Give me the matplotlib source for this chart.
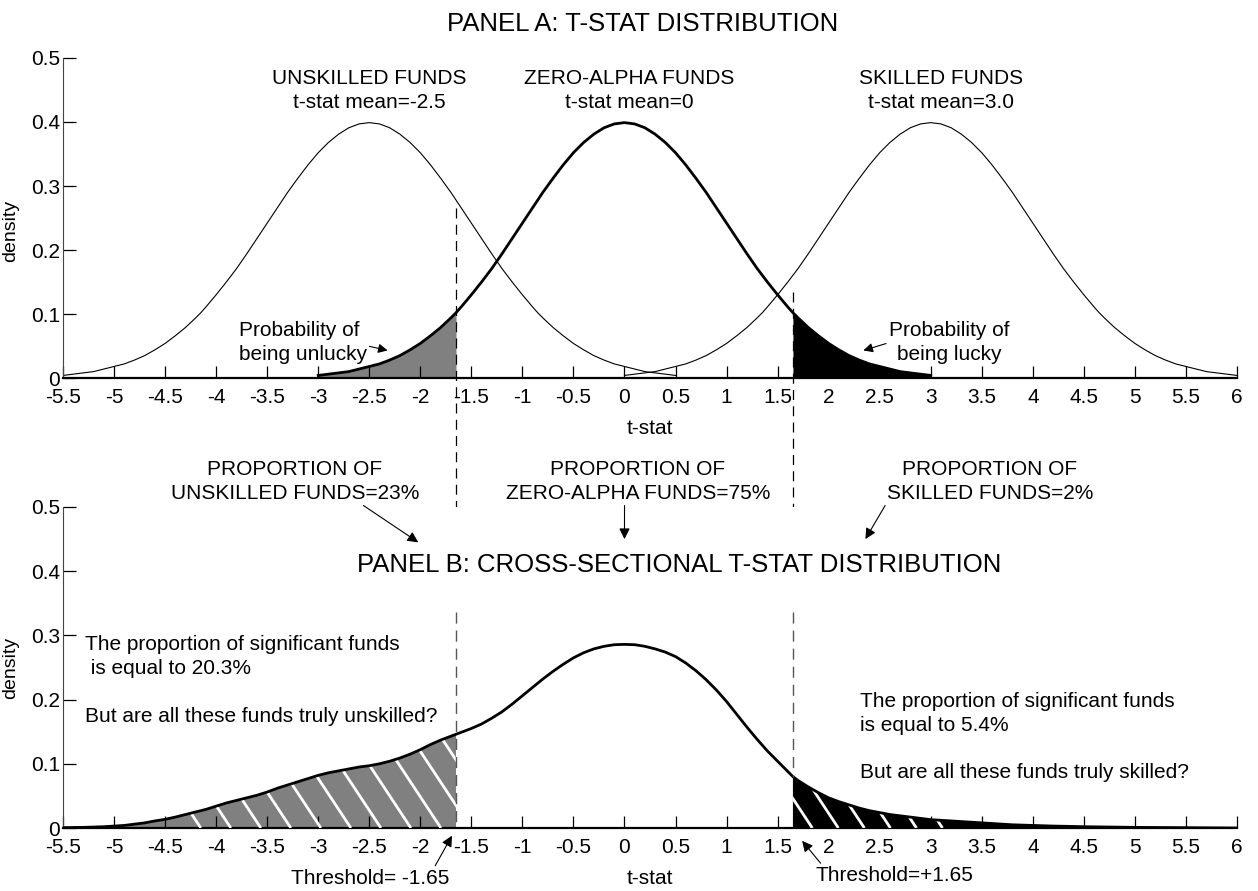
import numpy as np
import matplotlib
matplotlib.use("Agg")
import matplotlib.pyplot as plt
from matplotlib.patches import Polygon
from matplotlib.collections import LineCollection

plt.rcParams['font.family'] = ['Liberation Sans', 'DejaVu Sans']

# ---- data ----
# panel A: one density shape, read at distances 0, 0.1, ... 3 from the group mean (plus 1.65)
half_off = [0.0, 0.1, 0.2, 0.3, 0.4, 0.5, 0.6, 0.7, 0.8, 0.9, 1.0, 1.1, 1.2, 1.3, 1.4, 1.5,
            1.6, 1.65, 1.7, 1.8, 1.9, 2.0, 2.1, 2.2, 2.3, 2.4, 2.5, 2.6, 2.7, 2.8, 2.9, 3.0]
half_shape = [0.399, 0.397, 0.391, 0.381, 0.368, 0.352, 0.333, 0.312, 0.290, 0.266, 0.242, 0.218,
              0.194, 0.171, 0.150, 0.130, 0.111, 0.102, 0.094, 0.079, 0.066, 0.054, 0.044, 0.035,
              0.028, 0.022, 0.018, 0.014, 0.010, 0.008, 0.006, 0.004]
group_means = {'unskilled': -2.5, 'zero': 0.0, 'skilled': 3.0}

# panel B: cross-sectional density, read every 0.1 (plus the two thresholds)
tstat_b = sorted([round(v, 2) for v in np.arange(-5.5, 6.01, 0.1)] + [-1.65, 1.65])
dens_b = [
    # -5.5 .. -4.6
    0.0006, 0.0008, 0.001, 0.0015, 0.002, 0.003, 0.004, 0.006, 0.008, 0.011,
    # -4.5 .. -3.6
    0.0135, 0.017, 0.021, 0.025, 0.029, 0.034, 0.039, 0.043, 0.047, 0.051,
    # -3.5 .. -2.6
    0.056, 0.062, 0.067, 0.072, 0.077, 0.082, 0.086, 0.089, 0.092, 0.095,
    # -2.5 .. -1.6, -1.65 inserted
    0.097, 0.100, 0.104, 0.109, 0.115, 0.122, 0.130, 0.137, 0.143, 0.146, 0.149,
    # -1.5 .. -0.6
    0.155, 0.162, 0.171, 0.181, 0.193, 0.206, 0.219, 0.232, 0.244, 0.255,
    # -0.5 .. 0.4
    0.265, 0.273, 0.279, 0.283, 0.2855, 0.286, 0.2855, 0.283, 0.279, 0.274,
    # 0.5 .. 1.4
    0.267, 0.257, 0.245, 0.231, 0.215, 0.197, 0.177, 0.157, 0.138, 0.120,
    # 1.5 .. 2.4, 1.65 inserted
    0.104, 0.088, 0.080, 0.074, 0.064, 0.055, 0.047, 0.041, 0.036, 0.031, 0.027,
    # 2.5 .. 3.4
    0.024, 0.021, 0.019, 0.017, 0.015, 0.013, 0.012, 0.011, 0.010, 0.009,
    # 3.5 .. 4.4
    0.008, 0.007, 0.006, 0.005, 0.0045, 0.004, 0.0035, 0.003, 0.0027, 0.0024,
    # 4.5 .. 5.4
    0.002, 0.0018, 0.0016, 0.0014, 0.0012, 0.001, 0.0009, 0.0008, 0.0007, 0.0006,
    # 5.5 .. 6.0
    0.0005, 0.0004, 0.0003, 0.0002, 0.0001, 0.0,
]

thr_lo, thr_hi = -1.65, 1.65
xticks = np.arange(-5.5, 6.01, 0.5)
xticklabels = ['-5.5', '-5', '-4.5', '-4', '-3.5', '-3', '-2.5', '-2', '-1.5', '-1', '-0.5', '0',
               '0.5', '1', '1.5', '2', '2.5', '3', '3.5', '4', '4.5', '5', '5.5', '6']
yticks = [0, 0.1, 0.2, 0.3, 0.4, 0.5]
yticklabels = ['0', '0.1', '0.2', '0.3', '0.4', '0.5']

W, H = 1258, 891
fig = plt.figure(figsize=(W / 100, H / 100), dpi=100)
ax_a = fig.add_axes([63 / W, (H - 378) / H, 1174 / W, 320 / H])
ax_b = fig.add_axes([63 / W, (H - 828) / H, 1174 / W, 321 / H])

for ax in (ax_a, ax_b):
    ax.set_xlim(-5.5, 6)
    ax.set_ylim(0, 0.5)
    ax.spines['top'].set_visible(False)
    ax.spines['right'].set_visible(False)
    ax.spines['left'].set_color('#444444')
    ax.spines['bottom'].set_linewidth(1.6)
    ax.set_xticks(xticks)
    ax.set_xticklabels(xticklabels)
    ax.set_yticks(yticks)
    ax.set_yticklabels(yticklabels)
    ax.tick_params(axis='x', direction='in', length=9, width=0.9, labelsize=15, pad=7.5)
    ax.tick_params(axis='y', direction='in', length=9, width=0.9, labelsize=15, pad=2)
    ax.set_xlabel('t-stat', fontsize=15, labelpad=8)
    ax.set_ylabel('density', fontsize=14)
ax_a.yaxis.set_label_coords(-0.037, 0.46)
ax_b.yaxis.set_label_coords(-0.037, 0.5)

dash = (0, (8, 5))
txt = 15
ls = 1.32

# ---- panel A ----
off = np.r_[-np.array(half_off[:0:-1]), np.array(half_off)]
sh = np.r_[np.array(half_shape[:0:-1]), np.array(half_shape)]
ax_a.plot(off + group_means['unskilled'], sh, color='k', lw=0.8)
ax_a.plot(off + group_means['skilled'], sh, color='k', lw=0.8)
x0 = off + group_means['zero']
ax_a.fill_between(x0, sh, where=(x0 <= thr_lo), color='#808080', lw=0)
ax_a.fill_between(x0, sh, where=(x0 >= thr_hi), color='black', lw=0)
ax_a.plot(x0, sh, color='k', lw=2.0)

ax_a.plot([thr_lo, thr_lo], [0.266, -0.209], ls=dash, color='k', lw=0.9, clip_on=False)
ax_a.plot([thr_hi, thr_hi], [0.134, -0.209], ls=dash, color='k', lw=0.9, clip_on=False)

ax_a.text(-2.5, 0.449, 'UNSKILLED FUNDS\nt-stat mean=-2.5', ha='center', va='center',
          fontsize=txt, linespacing=ls)
ax_a.text(0.05, 0.449, 'ZERO-ALPHA FUNDS\nt-stat mean=0', ha='center', va='center',
          fontsize=txt, linespacing=ls)
ax_a.text(3.1, 0.449, 'SKILLED FUNDS\nt-stat mean=3.0', ha='center', va='center',
          fontsize=txt, linespacing=ls)

ax_a.annotate('Probability of\nbeing unlucky', xy=(-2.32, 0.043), xytext=(-3.78, 0.055),
              ha='left', va='center', fontsize=txt, linespacing=ls,
              arrowprops=dict(arrowstyle='-|>', color='k', lw=0.8, mutation_scale=14,
                              shrinkA=0, shrinkB=0, relpos=(0.93, 0.48)))
ax_a.annotate('Probability of\nbeing lucky', xy=(2.34, 0.043), xytext=(3.18, 0.055),
              ha='center', va='center', fontsize=txt, linespacing=ls,
              arrowprops=dict(arrowstyle='-|>', color='k', lw=0.8, mutation_scale=14,
                              shrinkA=0, shrinkB=0, relpos=(0.02, 0.52)))

fig.text(643 / W, 1 - 24 / H, 'PANEL A: T-STAT DISTRIBUTION', ha='center', va='center', fontsize=18.5)

# ---- panel B ----
xb = np.array(tstat_b)
yb = np.array(dens_b)

left = xb <= thr_lo
right = xb >= thr_hi
poly_l = Polygon(np.column_stack([np.r_[xb[left], thr_lo, xb[0]], np.r_[yb[left], 0, 0]]),
                 closed=True, facecolor='#808080', edgecolor='none')
poly_r = Polygon(np.column_stack([np.r_[xb[right], xb[-1], thr_hi], np.r_[yb[right], 0, 0]]),
                 closed=True, facecolor='black', edgecolor='none')
ax_b.add_patch(poly_l)
ax_b.add_patch(poly_r)

# white hatch strokes, drawn by hand so the spacing matches
sx = 1174 / 11.5   # px per t-stat unit
sy = 321 / 0.5     # px per density unit
lean = 0.66        # horizontal px per vertical px
top = 0.3


def hatch(bottoms, clip):
    segs = [[(b - top * sy * lean / sx, top), (b, 0)] for b in bottoms]
    lc = LineCollection(segs, colors='white', linewidths=2.0, zorder=3)
    ax_b.add_collection(lc)
    lc.set_clip_path(clip)


hatch(np.arange(-4.15, -1.2, 0.294), poly_l)
hatch(np.arange(1.84, 3.15, 0.255), poly_r)

ax_b.plot(xb, yb, color='k', lw=2.0, zorder=4)

ax_b.plot([thr_lo, thr_lo], [0.336, 0], ls=dash, color='#555555', lw=1.0, zorder=5)
ax_b.plot([thr_hi, thr_hi], [0.336, 0.08], ls=dash, color='#555555', lw=1.0, zorder=5)

fig.text(679 / W, 1 - 565 / H, 'PANEL B: CROSS-SECTIONAL T-STAT DISTRIBUTION',
         ha='center', va='center', fontsize=18.5)

arrow = dict(arrowstyle='-|>', color='k', lw=0.8, mutation_scale=16, shrinkA=0, shrinkB=0)
ax_b.annotate('PROPORTION OF\nUNSKILLED FUNDS=23%', xy=(-2.02, 0.445), xytext=(-3.23, 0.54),
              ha='center', va='center', fontsize=txt, linespacing=ls, annotation_clip=False,
              arrowprops=dict(arrow, relpos=(0.76, 0.0)))
ax_b.annotate('PROPORTION OF\nZERO-ALPHA FUNDS=75%', xy=(0.0, 0.45), xytext=(0.13, 0.54),
              ha='center', va='center', fontsize=txt, linespacing=ls, annotation_clip=False,
              arrowprops=dict(arrow, relpos=(0.45, 0.0)))
ax_b.annotate('PROPORTION OF\nSKILLED FUNDS=2%', xy=(2.36, 0.45), xytext=(3.58, 0.54),
              ha='center', va='center', fontsize=txt, linespacing=ls, annotation_clip=False,
              arrowprops=dict(arrow, relpos=(0.0, 0.0)))

ax_b.text(-5.28, 0.3, 'The proportion of significant funds\n is equal to 20.3%\n\nBut are all these funds truly unskilled?',
          ha='left', va='top', fontsize=txt, linespacing=ls)
ax_b.text(2.31, 0.212, 'The proportion of significant funds\nis equal to 5.4%\n\nBut are all these funds truly skilled?',
          ha='left', va='top', fontsize=txt, linespacing=ls)

ax_b.annotate('Threshold= -1.65', xy=(-1.69, -0.012), xytext=(-2.49, -0.078),
              ha='center', va='center', fontsize=txt, annotation_clip=False,
              arrowprops=dict(arrow, relpos=(0.9, 1.0)))
ax_b.annotate('Threshold=+1.65', xy=(1.74, -0.02), xytext=(2.64, -0.074),
              ha='center', va='center', fontsize=txt, annotation_clip=False,
              arrowprops=dict(arrow, relpos=(0.05, 1.0)))

fig.savefig('out.png', dpi=100)
